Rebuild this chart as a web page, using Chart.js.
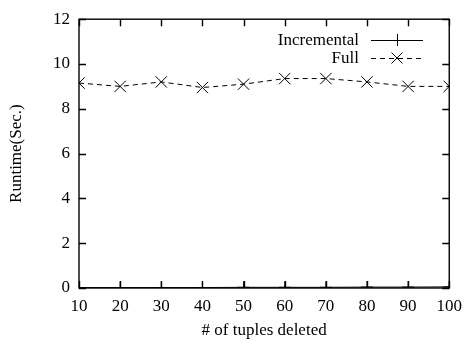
<!DOCTYPE html>
<html>
<head>
<meta charset="utf-8">
<script src="https://cdn.jsdelivr.net/npm/chart.js@4.4.1/dist/chart.umd.min.js"></script>
<style>
  html, body { margin: 0; padding: 0; background: #fff; }
  #wrap { width: 470px; height: 345px; }
</style>
</head>
<body>
<div id="wrap"><canvas id="runtime-chart"></canvas></div>
<script>
const tuplesDeleted = [10, 20, 30, 40, 50, 60, 70, 80, 90, 100]
const incrementalSec = [0.02, 0.02, 0.02, 0.02, 0.03, 0.03, 0.03, 0.04, 0.04, 0.05]
const fullSec = [9.15, 9.0, 9.2, 8.95, 9.1, 9.35, 9.35, 9.2, 9.0, 9.0]
const yTicks = [0, 2, 4, 6, 8, 10, 12]

const serif = '"Liberation Serif", "DejaVu Serif", serif'

// gnuplot-like frame: box border, inward ticks mirrored on all sides, key top-right
const framePlugin = {
  id: 'frame',
  afterDraw(chart) {
    const { ctx, chartArea: a, scales } = chart
    const len = 7
    ctx.save()
    ctx.strokeStyle = '#000'
    ctx.lineWidth = 1.4
    ctx.strokeRect(a.left, a.top, a.right - a.left, a.bottom - a.top)
    ctx.beginPath()
    tuplesDeleted.forEach(v => {
      const x = Math.round(scales.x.getPixelForValue(v)) + 0.5
      ctx.moveTo(x, a.bottom); ctx.lineTo(x, a.bottom - len)
      ctx.moveTo(x, a.top); ctx.lineTo(x, a.top + len)
    })
    yTicks.forEach(v => {
      const y = Math.round(scales.y.getPixelForValue(v)) + 0.5
      ctx.moveTo(a.left, y); ctx.lineTo(a.left + len, y)
      ctx.moveTo(a.right, y); ctx.lineTo(a.right - len, y)
    })
    ctx.stroke()

    // key
    ctx.font = '17px ' + serif
    ctx.textAlign = 'right'
    ctx.textBaseline = 'middle'
    ctx.fillStyle = '#000'
    chart.data.datasets.forEach((ds, i) => {
      const y = 40 + i * 18
      const x0 = 371, x1 = 423, xm = 397
      ctx.fillText(ds.label, 359, y + 1)
      ctx.lineWidth = 1
      ctx.setLineDash(ds.borderDash || [])
      ctx.beginPath(); ctx.moveTo(x0, y + 0.5); ctx.lineTo(x1, y + 0.5); ctx.stroke()
      ctx.setLineDash([])
      ctx.beginPath()
      if (ds.pointStyle === 'cross') {
        ctx.moveTo(xm - 6, y + 0.5); ctx.lineTo(xm + 6, y + 0.5)
        ctx.moveTo(xm + 0.5, y - 6); ctx.lineTo(xm + 0.5, y + 6)
      } else {
        ctx.moveTo(xm - 5.5, y - 5.5); ctx.lineTo(xm + 5.5, y + 5.5)
        ctx.moveTo(xm - 5.5, y + 5.5); ctx.lineTo(xm + 5.5, y - 5.5)
      }
      ctx.stroke()
    })
    ctx.restore()
  }
}

new Chart(document.getElementById('runtime-chart'), {
  type: 'line',
  data: {
    datasets: [{
      label: 'Incremental',
      data: tuplesDeleted.map((x, i) => ({ x, y: incrementalSec[i] })),
      borderColor: '#000',
      borderWidth: 1,
      pointStyle: 'cross',
      pointRadius: 6,
      pointBorderWidth: 1,
      pointBorderColor: '#000',
      fill: false
    }, {
      label: 'Full',
      data: tuplesDeleted.map((x, i) => ({ x, y: fullSec[i] })),
      borderColor: '#000',
      borderWidth: 1,
      borderDash: [5, 4],
      pointStyle: 'crossRot',
      pointRadius: 8,
      pointBorderWidth: 1,
      pointBorderColor: '#000',
      fill: false
    }]
  },
  options: {
    responsive: true,
    maintainAspectRatio: false,
    animation: false,
    layout: { padding: { top: 16, right: 16, left: 0, bottom: 0 } },
    plugins: {
      legend: { display: false },
      tooltip: { enabled: false }
    },
    scales: {
      x: {
        type: 'linear',
        min: 10,
        max: 100,
        afterBuildTicks: s => { s.ticks = tuplesDeleted.map(value => ({ value })) },
        afterFit: s => { s.height = 57 },
        grid: { display: false, drawTicks: false },
        border: { display: false },
        ticks: { color: '#000', font: { family: serif, size: 17 }, padding: 8, maxRotation: 0 },
        title: { display: true, text: '# of tuples deleted', color: '#000', font: { family: serif, size: 17 }, padding: { top: 4, bottom: 4 } }
      },
      y: {
        min: 0,
        max: 12,
        afterBuildTicks: s => { s.ticks = yTicks.map(value => ({ value })) },
        afterFit: s => { s.width = 79 },
        grid: { display: false, drawTicks: false },
        border: { display: false },
        ticks: { color: '#000', font: { family: serif, size: 17 }, padding: 9 },
        title: { display: true, text: 'Runtime(Sec.)', color: '#000', font: { family: serif, size: 17 }, padding: { top: 6, bottom: 6 } }
      }
    }
  },
  plugins: [framePlugin]
})
</script>
</body>
</html>
